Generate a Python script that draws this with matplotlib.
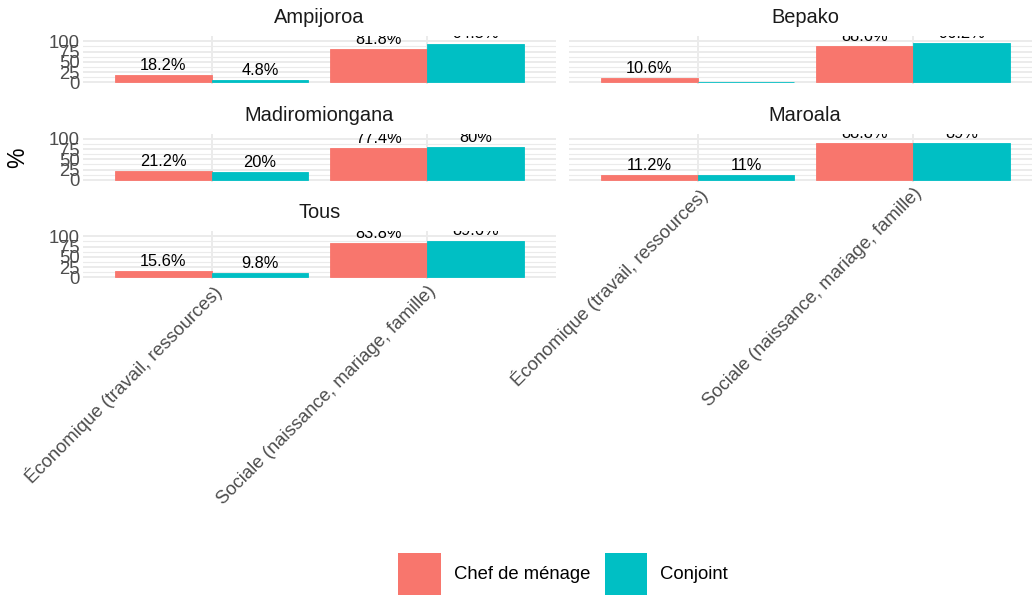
import matplotlib
matplotlib.use("Agg")
import matplotlib.pyplot as plt
from matplotlib.patches import Patch
import numpy as np

plt.rcParams["font.family"] = ["Liberation Sans", "DejaVu Sans"]

# ── données ──────────────────────────────────────────
panels = ["Ampijoroa", "Bepako", "Madiromiongana", "Maroala", "Tous"]
categories = ["Économique (travail, ressources)", "Sociale (naissance, mariage, famille)"]
groups = ["Chef de ménage", "Conjoint"]
chef_eco = [18.2, 10.6, 21.2, 11.2, 15.6]
chef_soc = [81.8, 88.6, 77.4, 88.8, 83.8]
conj_eco = [4.8, 0, 20, 11, 9.8]
conj_soc = [94.5, 96.2, 80, 89, 89.6]

colors = ["#F8766D", "#00BFC4"]
W, H = 1032, 596

fig = plt.figure(figsize=(W / 100, H / 100), dpi=100)

# positions des panneaux (pixels)
cols_px = [(82.5, 556), (568.5, 1042)]
row_y100 = [41.3, 138.8, 236.3]
ppu = 0.41  # px par unité y
ymin, ymax = -5, 112


def add_panel(r, c):
    x0, x1 = cols_px[c]
    top = row_y100[r] - (ymax - 100) * ppu
    bot = row_y100[r] + (100 - ymin) * ppu
    return fig.add_axes([x0 / W, 1 - bot / H, (x1 - x0) / W, (bot - top) / H])


layout = [(0, 0), (0, 1), (1, 0), (1, 1), (2, 0)]
show_x = [False, False, False, True, True]

for i, name in enumerate(panels):
    r, c = layout[i]
    ax = add_panel(r, c)
    x = np.arange(1, len(categories) + 1)
    w = 0.45
    vals = [[chef_eco[i], chef_soc[i]], [conj_eco[i], conj_soc[i]]]
    for g in range(2):
        xs = x + (g - 0.5) * w
        ax.bar(xs, vals[g], width=w, color=colors[g], edgecolor=colors[g],
               linewidth=0.6, zorder=2)
        for xx, v in zip(xs, vals[g]):
            if v > 0:
                ax.annotate(f"{v:g}%", (xx, v), xytext=(0, 1.5), textcoords="offset points",
                            ha="center", va="bottom", fontsize=11.8, color="black",
                            annotation_clip=False, clip_on=True, zorder=3)

    ax.set_xlim(0.4, 2.6)
    ax.set_ylim(ymin, ymax)
    ax.set_yticks([0, 25, 50, 75, 100])
    ax.set_yticks([12.5, 37.5, 62.5, 87.5], minor=True)
    ax.set_xticks(x)
    ax.grid(True, which="major", color="#EBEBEB", linewidth=1.4, zorder=0)
    ax.grid(True, which="minor", axis="y", color="#EBEBEB", linewidth=0.8, zorder=0)
    ax.set_axisbelow(True)
    for s in ax.spines.values():
        s.set_visible(False)
    ax.tick_params(which="both", length=0, pad=2, labelsize=13.3, colors="#4D4D4D")

    if c == 0:
        ax.set_yticklabels(["0", "25", "50", "75", "100"])
    else:
        ax.set_yticklabels([])

    if show_x[i]:
        ax.set_xticklabels(categories, rotation=45, ha="right", va="top",
                           rotation_mode="anchor")
    else:
        ax.set_xticklabels([])

    ax.annotate(name, (0.5, 1), xycoords="axes fraction", xytext=(0, 13.5),
                textcoords="offset points", ha="center", va="center",
                fontsize=14.4, color="#1A1A1A")

fig.text(18 / W, 1 - 158 / H, "%", rotation=90, ha="center", va="center",
         fontsize=16.5, color="black")

handles = [Patch(facecolor=colors[0]), Patch(facecolor=colors[1])]
fig.legend(handles, groups, loc="center", bbox_to_anchor=(563 / W, 1 - 574 / H),
           ncol=2, frameon=False, fontsize=13.3, handlelength=2.3,
           handleheight=3.1, handletextpad=0.7, columnspacing=0.8)

fig.savefig("out.png", dpi=100)
